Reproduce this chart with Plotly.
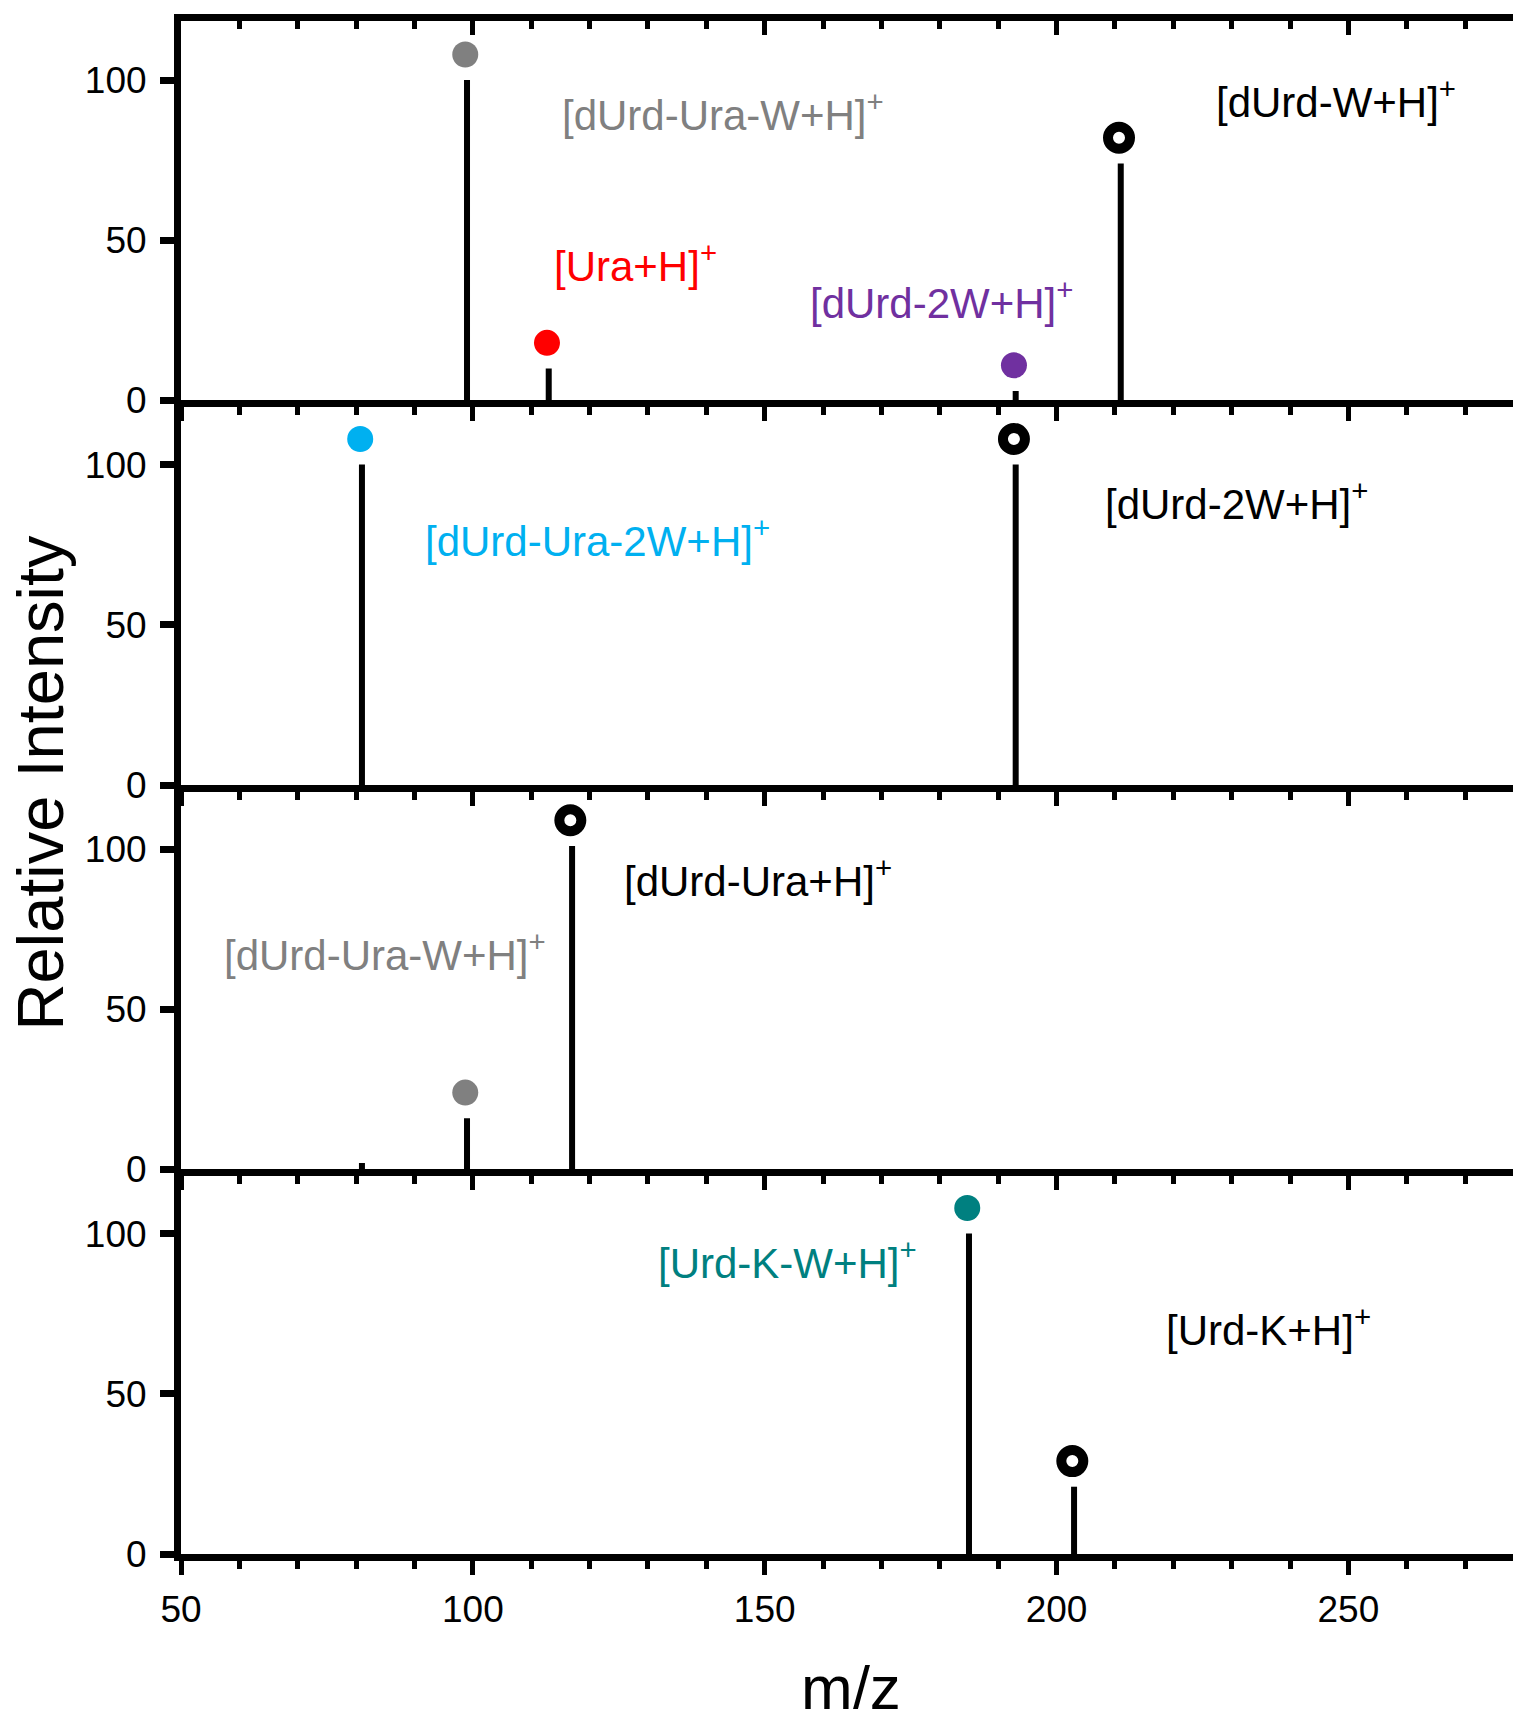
import plotly.graph_objects as go

# ---------------- data ----------------
# m/z positions and relative intensities of the peaks, one list per panel (top to bottom)
panel1_mz = [99, 113, 193, 211]
panel1_int = [100, 10, 3, 74]
panel1_mark = ["#808080", "#ff0000", "#7030a0", "open"]

panel2_mz = [81, 193]
panel2_int = [100, 100]
panel2_mark = ["#00b0f0", "open"]

panel3_mz = [81, 99, 117]
panel3_int = [2, 16, 101]
panel3_mark = [None, "#808080", "open"]

panel4_mz = [185, 203]
panel4_int = [100, 21]
panel4_mark = ["#008080", "open"]

# peak labels: (text, colour, x of left edge, y of centre)
panel1_labels = [("[dUrd-Ura-W+H]<sup>+</sup>", "#808080", 115, 90),
                 ("[Ura+H]<sup>+</sup>", "#ff0000", 113.5, 43),
                 ("[dUrd-2W+H]<sup>+</sup>", "#7030a0", 157.5, 31.5),
                 ("[dUrd-W+H]<sup>+</sup>", "#000000", 227, 94)]
panel2_labels = [("[dUrd-Ura-2W+H]<sup>+</sup>", "#00b0f0", 91.5, 77),
                 ("[dUrd-2W+H]<sup>+</sup>", "#000000", 208, 88.5)]
panel3_labels = [("[dUrd-Ura+H]<sup>+</sup>", "#000000", 125.5, 91),
                 ("[dUrd-Ura-W+H]<sup>+</sup>", "#808080", 57, 68)]
panel4_labels = [("[Urd-K-W+H]<sup>+</sup>", "#008080", 131.3, 91.7),
                 ("[Urd-K+H]<sup>+</sup>", "#000000", 218.4, 71)]

x_ticks = [50, 100, 150, 200, 250]
y_ticks = [0, 50, 100]
x_range = [50, 278.2]
y_top = [118.44, 120, 120, 120]
MARKER_GAP = 8
MARKER_DX = -0.3

panels = [
    (panel1_mz, panel1_int, panel1_mark, panel1_labels),
    (panel2_mz, panel2_int, panel2_mark, panel2_labels),
    (panel3_mz, panel3_int, panel3_mark, panel3_labels),
    (panel4_mz, panel4_int, panel4_mark, panel4_labels),
]
domains = [[0.75245, 1.0], [0.50163, 0.75245], [0.25082, 0.50163], [0.0, 0.25082]]

FONT = "Liberation Sans, Arial, Helvetica, sans-serif"
AXW = 7
TICKFONT = dict(family=FONT, size=37, color="black")

fig = go.Figure()
annotations = []

for i, (mz, inten, marks, labels) in enumerate(panels):
    n = i + 1
    xa = "x" if n == 1 else f"x{n}"
    ya = "y" if n == 1 else f"y{n}"
    # stems
    xs, ys = [], []
    for m, v in zip(mz, inten):
        xs += [m, m, None]
        ys += [0, v, None]
    fig.add_trace(go.Scatter(x=xs, y=ys, mode="lines", xaxis=xa, yaxis=ya,
                             line=dict(color="black", width=6), showlegend=False,
                             hoverinfo="skip"))
    # filled markers
    fx = [m + MARKER_DX for m, c in zip(mz, marks) if c not in (None, "open")]
    fy = [v + MARKER_GAP for v, c in zip(inten, marks) if c not in (None, "open")]
    fc = [c for c in marks if c not in (None, "open")]
    if fx:
        fig.add_trace(go.Scatter(x=fx, y=fy, mode="markers", xaxis=xa, yaxis=ya,
                                 marker=dict(color=fc, size=26, line=dict(width=0)),
                                 showlegend=False))
    ox = [m + MARKER_DX for m, c in zip(mz, marks) if c == "open"]
    oy = [v + MARKER_GAP for v, c in zip(inten, marks) if c == "open"]
    if ox:
        fig.add_trace(go.Scatter(x=ox, y=oy, mode="markers", xaxis=xa, yaxis=ya,
                                 marker=dict(color="white", size=22,
                                             line=dict(color="black", width=10)),
                                 showlegend=False))
    for text, col, lx, ly in labels:
        annotations.append(dict(text=text, x=lx, y=ly, xref=xa, yref=ya,
                                xanchor="left", yanchor="middle", showarrow=False,
                                font=dict(family=FONT, size=42, color=col)))

    xkey = "xaxis" if n == 1 else f"xaxis{n}"
    ykey = "yaxis" if n == 1 else f"yaxis{n}"
    fig.update_layout(**{
        xkey: dict(domain=[0, 1], anchor=ya, range=x_range, showgrid=False,
                   zeroline=False, showline=True, linewidth=AXW, linecolor="black",
                   ticks="outside", ticklen=14, tickwidth=5, tickcolor="black",
                   tickvals=x_ticks, showticklabels=(n == 4),
                   ticklabelstandoff=3, tickfont=TICKFONT,
                   minor=dict(dtick=10, tick0=50, ticks="outside", ticklen=8,
                              tickwidth=5, tickcolor="black"),
                   **({} if n == 1 else {"matches": "x"})),
        ykey: dict(domain=domains[i], anchor=xa, range=[0, y_top[i]], showgrid=False,
                   zeroline=False, showline=True, linewidth=AXW, linecolor="black",
                   ticks="outside", ticklen=14, tickwidth=7, tickcolor="black",
                   tickvals=y_ticks, ticklabelstandoff=6, tickfont=TICKFONT),
    })

# top frame of the first panel with inward ticks
fig.add_trace(go.Scatter(x=[x_range[0]], y=[0], xaxis="x5", yaxis="y", mode="markers",
                         marker=dict(opacity=0), showlegend=False, hoverinfo="skip"))
fig.update_layout(xaxis5=dict(overlaying="x", anchor="y", side="top", range=x_range,
                              showgrid=False, zeroline=False, showline=True,
                              linewidth=AXW, linecolor="black", ticks="inside",
                              ticklen=14, tickwidth=5, tickcolor="black",
                              tickvals=x_ticks, showticklabels=False,
                              minor=dict(dtick=10, tick0=50, ticks="inside", ticklen=8,
                                         tickwidth=5, tickcolor="black")))

annotations.append(dict(text="m/z", x=0.503, y=-0.087, xref="paper", yref="paper",
                        xanchor="center", yanchor="middle", showarrow=False,
                        font=dict(family=FONT, size=62, color="black")))
annotations.append(dict(text="Relative Intensity", x=-0.1055, y=0.503, xref="paper",
                        yref="paper", xanchor="center", yanchor="middle",
                        textangle=-90, showarrow=False,
                        font=dict(family=FONT, size=65, color="black")))

fig.update_layout(width=1505, height=1701, plot_bgcolor="white", paper_bgcolor="white",
                  margin=dict(l=173, r=0, t=13, b=155), annotations=annotations,
                  showlegend=False)

fig.write_html("out.html")
